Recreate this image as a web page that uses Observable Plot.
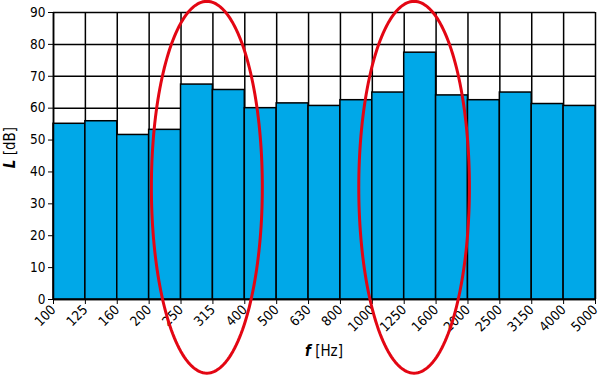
<!DOCTYPE html>
<html>
<head>
<meta charset="utf-8">
<script src="https://cdn.jsdelivr.net/npm/d3@7"></script>
<script src="https://cdn.jsdelivr.net/npm/@observablehq/plot@0.6"></script>
<style>
  html, body { margin: 0; padding: 0; background: #fff; }
  #chart svg { display: block; }
  #chart svg text { font-size: 13.5px; }
</style>
</head>
<body>
<div id="chart"></div>
<script>
// Third-octave band boundary labels (Hz)
const bandLabels = ["100","125","160","200","250","315","400","500","630","800","1000","1250","1600","2000","2500","3150","4000","5000"];
// Sound level per band (dB)
const levels = [55.1, 55.9, 51.6, 53.2, 67.4, 65.7, 60.0, 61.5, 60.7, 62.5, 64.9, 77.4, 64.0, 62.5, 64.9, 61.3, 60.7];
// y ticks
const yTicks = [0, 10, 20, 30, 40, 50, 60, 70, 80, 90];
// Highlight ellipses (in band-index / dB units)
const ellipseCenterIdx = [4.81, 11.31];
const ellipseRadiusIdx = [1.74, 1.735];
const ellipseCenterDb = [35.2, 35.2];
const ellipseRadiusDb = [58.3, 58.3];

const bars = levels.map((v, i) => ({i0: i, i1: i + 1, level: v}));
const boundaries = bandLabels.map((_, i) => i);

const ellipsePts = [];
ellipseCenterIdx.forEach((cx, k) => {
  const n = 180;
  for (let j = 0; j < n; ++j) {
    const t = (j / n) * 2 * Math.PI;
    ellipsePts.push({id: k, x: cx + ellipseRadiusIdx[k] * Math.cos(t), y: ellipseCenterDb[k] + ellipseRadiusDb[k] * Math.sin(t)});
  }
});

const font = "'Liberation Sans Narrow', 'DejaVu Sans Condensed', 'Open Sans', sans-serif";

const plot = Plot.plot({
  width: 600,
  height: 375,
  marginLeft: 53,
  marginRight: 5,
  marginTop: 12,
  marginBottom: 76,
  style: {fontFamily: font, fontSize: "13.5px", color: "#000", background: "#fff"},
  x: {domain: [0, bandLabels.length - 1], axis: null},
  y: {domain: [0, 90], axis: null},
  marks: [
    Plot.gridY(yTicks, {stroke: "#000", strokeOpacity: 1, strokeWidth: 1.5}),
    Plot.gridX(boundaries, {stroke: "#000", strokeOpacity: 1, strokeWidth: 1.5}),
    Plot.rectY(bars, {x1: "i0", x2: "i1", y: "level", fill: "#00a8e8", stroke: "#000", strokeWidth: 1.5, inset: 0}),
    Plot.axisY(yTicks, {tickSize: 5, tickPadding: 3, tickFormat: d => d, label: null}),
    Plot.axisX(boundaries, {tickSize: 5, tickPadding: 3, tickRotate: -45, tickFormat: i => bandLabels[i], label: null}),
    Plot.ruleY([0], {stroke: "#000", strokeWidth: 1.5}),
    Plot.ruleX([0], {stroke: "#000", strokeWidth: 1.5}),
    Plot.line(ellipsePts, {x: "x", y: "y", z: "id", stroke: "#e30613", strokeWidth: 3, curve: "linear-closed", clip: false})
  ]
});

const svg = d3.select(plot);
const xr = plot.scale("x").range;
const yr = plot.scale("y").range;
// x-axis label: f [Hz]
const xl = svg.append("text")
  .attr("x", (xr[0] + xr[1]) / 2)
  .attr("y", 356)
  .attr("text-anchor", "middle")
  .attr("style", "font-size:15px")
  .attr("fill", "#000");
xl.append("tspan").attr("font-weight", "bold").attr("font-style", "italic").text("f");
xl.append("tspan").text(" [Hz]");
// y-axis label: L [dB]
const yl = svg.append("text")
  .attr("transform", `translate(15,${(yr[0] + yr[1]) / 2 - 8}) rotate(-90)`)
  .attr("text-anchor", "middle")
  .attr("style", "font-size:15px")
  .attr("fill", "#000");
yl.append("tspan").attr("font-weight", "bold").attr("font-style", "italic").text("L");
yl.append("tspan").text(" [dB]");

document.getElementById("chart").appendChild(plot);
</script>
</body>
</html>
